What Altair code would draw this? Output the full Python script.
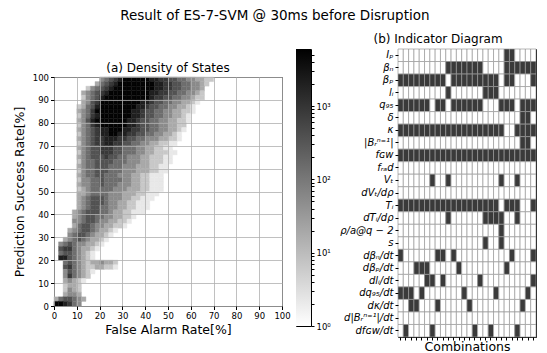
import altair as alt
import pandas as pd

TITLE = "Result of ES-7-SVM @ 30ms before Disruption"
TITLE_A = "(a) Density of States"
TITLE_B = "(b) Indicator Diagram"
X_TITLE_A = "False Alarm Rate[%]"
Y_TITLE_A = "Prediction Success Rate[%]"
X_TITLE_B = "Combinations"

# (a) Density of states, 2%-wide bins.  One string per PSR bin row, top (98-100%) to bottom (0-2%);
# each character is one FAR bin starting at 0%; digit = shade level, '.' = empty bin
density_rows = [
    "..........4567899999988776655443322",
    ".........3567899999999887766554432",
    ".......24567899999999988776655443",
    "......345678999999999887766554432",
    "......245689999999999877665544322",
    "......34679999999998876655443321",
    ".....23568999999998876655443321",
    ".....34579999999988766554433221",
    ".....2457899999998876655443321",
    ".....3468999999988766554433221",
    ".....245789999998876655443322",
    ".....345678899988776655443321",
    ".....24567889988776655443321",
    ".....34567788877665544433221",
    ".....2456778877665544332211",
    ".....345667776655544332211",
    ".....2456677766555443322211",
    ".....345666766554443322211",
    ".....245566665554443322211",
    ".....34556665554443332211",
    ".....24556665554443332211",
    ".....3455665554443322111",
    ".....2445565555443322111",
    ".....3445565554443322111",
    ".....2345555544433322111",
    ".....334555544433322111",
    ".....34566654443322111",
    ".....3456665443322111",
    ".....3456655443322111",
    "....3456665543322111",
    "....34566554433221",
    "....4456654433221",
    "....356654433221",
    "...34566543321",
    "...4566543321",
    "..3456543321",
    ".4565443321",
    ".677543321",
    ".56654321",
    ".88654321",
    "..565432334332",
    "..675432233221",
    "..4654321",
    "..475432",
    "..34321",
    "..2332",
    "..2432",
    "..3443",
    "3566543",
    "998754",
]
BIN = 2
LOG_BASE = 0.3      # log10(count) of shade level 1
LOG_STEP = 0.43     # log10(count) per shade level

axis_ticks = list(range(0, 101, 10))
cbar_min, cbar_max = 1, 6000
cbar_major = [1, 10, 100, 1000]
cbar_major_labels = ["10⁰", "10¹", "10²", "10³"]
cbar_minor = [m * d for d in (1, 10, 100, 1000) for m in range(2, 10) if m * d < cbar_max]

# (b) Indicator diagram: 26 combinations, '#' = indicator used
indicators = [
    "Iₚ", "βₙ", "βₚ", "lᵢ", "q₉₅", "δ", "κ", "|Bᵣⁿ⁼¹|", "fɢᴡ", "fᵣₐd", "Vₜ", "dVₜ/dρ",
    "Tᵢ", "dTᵢ/dρ", "ρ/a@q − 2", "s", "dβₙ/dt", "dβₚ/dt", "dlᵢ/dt", "dq₉₅/dt", "dκ/dt",
    "d|Bᵣⁿ⁼¹|/dt", "dfɢᴡ/dt",
]
usage = [
    "....................##....",
    ".........#######....######",
    "#########.#########.##...#",
    ".........#......###.......",
    "######.##.######...###.###",
    ".......................##.",
    "####################..####",
    ".......................##.",
    "##########################",
    "..........................",
    "......#..#.........#..#...",
    "..........................",
    "###################.###..#",
    ".........#......####..#...",
    "...................#......",
    "................#..#......",
    "#......##.#..........#...#",
    "...###.....#........#.....",
    ".....##.#......#.........#",
    "###.#.......#.....#.....#.",
    "..##...#.....#.........#..",
    "..........................",
    ".#....#.......#..#....#...",
]
N_COMB = 26

FONT = "DejaVu Sans"

# ---------- build tables ----------
cells = []
for i, s in enumerate(density_rows):
    y0 = 100 - BIN * (i + 1)
    for j, ch in enumerate(s):
        if ch.isdigit():
            lvl = int(ch)
            cells.append({"far0": j * BIN, "far1": (j + 1) * BIN, "psr0": y0, "psr1": y0 + BIN,
                          "count": 10 ** (LOG_BASE + LOG_STEP * (lvl - 1))})
dens = pd.DataFrame(cells)

grid_cells = []
for r, (lab, s) in enumerate(zip(indicators, usage)):
    for c in range(N_COMB):
        grid_cells.append({"ind": lab, "comb": c, "on": 1 if (c < len(s) and s[c] == "#") else 0})
grid_df = pd.DataFrame(grid_cells)

# ---------- (a) heatmap ----------
color_scale = alt.Scale(type="log", domain=[cbar_min, cbar_max], range=["#ffffff", "#000000"])
heat = alt.Chart(dens).mark_rect(strokeWidth=0.4).encode(
    x=alt.X("far0:Q", scale=alt.Scale(domain=[0, 100], nice=False),
            axis=alt.Axis(values=axis_ticks, title=X_TITLE_A, titleFontSize=12.5, titlePadding=3,
                          grid=True, zindex=1, tickSize=3.5, labelPadding=2, labelFlush=False)),
    x2="far1:Q",
    y=alt.Y("psr0:Q", scale=alt.Scale(domain=[0, 100], nice=False),
            axis=alt.Axis(values=axis_ticks, title=Y_TITLE_A, titleFontSize=12.5, titlePadding=6,
                          grid=True, zindex=1, tickSize=3.5, labelPadding=2)),
    y2="psr1:Q",
    color=alt.Color("count:Q", scale=color_scale, legend=None),
    stroke=alt.Stroke("count:Q", scale=color_scale, legend=None),
).properties(width=228, height=229,
             title=alt.TitleParams(TITLE_A, fontSize=12, offset=-2))

spacer = alt.Chart(pd.DataFrame({"v": [0]})).mark_point(opacity=0).encode(
    x=alt.X("v:Q", axis=None), y=alt.Y("v:Q", axis=None)
).properties(width=228, height=12, view=alt.ViewBackground(strokeOpacity=0))

# ---------- colour bar ----------
label_expr = " : ".join(
    f"datum.value == {v} ? '{t}'" for v, t in zip(cbar_major, cbar_major_labels)
) + " : ''"
cbar = alt.Chart(pd.DataFrame({"lo": [cbar_min], "hi": [cbar_max]})).mark_rect(
    color=alt.LinearGradient(
        gradient="linear",
        stops=[alt.GradientStop(color="#ffffff", offset=0), alt.GradientStop(color="#000000", offset=1)],
        x1=0, x2=0, y1=1, y2=0)
).encode(
    x=alt.value(0), x2=alt.value(15),
    y=alt.Y("lo:Q", scale=alt.Scale(type="log", domain=[cbar_min, cbar_max], nice=False),
            axis=alt.Axis(orient="right", values=sorted(cbar_major + cbar_minor), labelExpr=label_expr,
                          title=None, grid=False, tickSize=3, labelOverlap=False, labelPadding=2)),
    y2="hi:Q",
).properties(width=15, height=277)

# ---------- (b) indicator grid ----------
grid = alt.Chart(grid_df).mark_rect(stroke="#9a9a9a", strokeWidth=0.7).encode(
    x=alt.X("comb:O", scale=alt.Scale(paddingInner=0, paddingOuter=0),
            axis=alt.Axis(labels=False, ticks=True, tickSize=3, title=X_TITLE_B, titleFontSize=12.5,
                          titlePadding=0, grid=False)),
    y=alt.Y("ind:N", sort=indicators, scale=alt.Scale(paddingInner=0, paddingOuter=0),
            axis=alt.Axis(title=None, labelFontSize=10, labelFontStyle="italic", tickSize=3,
                          labelPadding=2, grid=False, labelLimit=200)),
    color=alt.condition("datum.on == 1", alt.value("#3a3a3a"), alt.value("#ffffff")),
).properties(width=138, height=288,
             title=alt.TitleParams(TITLE_B, fontSize=12, offset=3, frame="bounds"))

left = alt.vconcat(spacer, heat, spacing=0)
row = alt.hconcat(left, cbar, spacing=4)
chart = alt.hconcat(row, grid, spacing=8).properties(
    title=alt.TitleParams(TITLE, fontSize=13.5, offset=10, anchor="middle"),
    padding={"left": 4, "top": 0, "right": 0, "bottom": 0},
).configure_view(
    stroke="#000000", strokeWidth=1
).configure_axis(
    labelFont=FONT, titleFont=FONT, labelFontSize=8.5, labelColor="#000000", titleColor="#000000",
    titleFontWeight="normal", tickColor="#000000", domain=False,
    gridColor="#b0b0b0", gridWidth=0.8, gridOpacity=1,
).configure_title(
    font=FONT, fontWeight="normal", color="#000000"
)

chart.save("out.html", embed_options={"renderer": "svg", "actions": False})
